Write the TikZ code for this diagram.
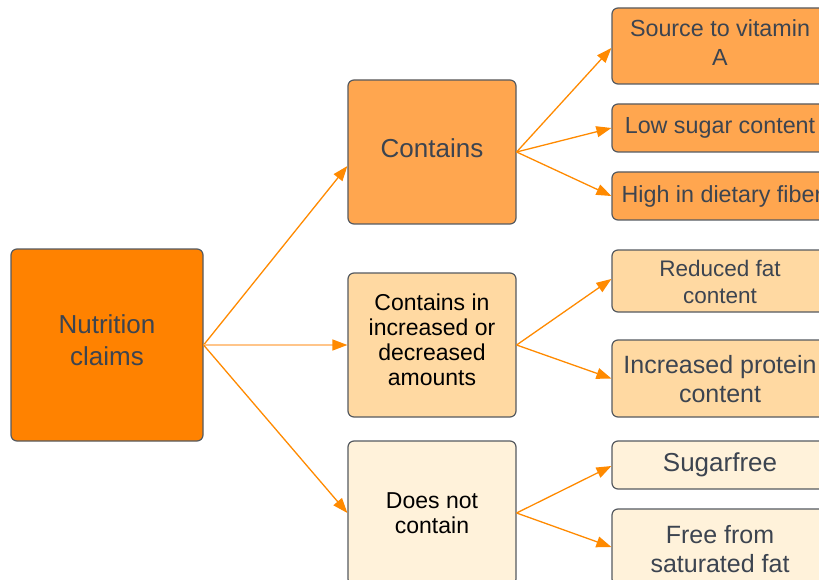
\documentclass[tikz,border=0pt]{standalone}
\usepackage{fontspec}
\setmainfont{Liberation Sans}
\usetikzlibrary{arrows.meta}
\definecolor{dkorange}{HTML}{FF8200}
\definecolor{mdorange}{HTML}{FFA64F}
\definecolor{ltorange}{HTML}{FFD9A2}
\definecolor{palecream}{HTML}{FFF2DA}
\definecolor{arrcol}{HTML}{FF8A00}
\definecolor{lightarr}{HTML}{FFC58A}
\definecolor{txtgray}{HTML}{3C4450}
\definecolor{bordergray}{HTML}{555A60}
\tikzset{
  box/.style={draw=bordergray, line width=1.2pt, rounded corners=6pt, rectangle, inner sep=0pt},
  lbl/.style={align=center, inner sep=0pt},
  arr/.style={draw=arrcol, line width=1.3pt, -{Triangle[length=15pt,width=11pt,color=arrcol]}},
  lightarr/.style={draw=lightarr, line width=1.3pt, -{Triangle[length=15pt,width=11pt,color=arrcol,fill=arrcol]}},
}
\begin{document}
\begin{tikzpicture}[x=1pt,y=-1pt]
\useasboundingbox (0,0) rectangle (819,580);
\clip (0,0) rectangle (819,580);
\fill[white] (0,0) rectangle (819,580);
% left
\node[box, fill=dkorange, minimum width=192pt, minimum height=192pt] (nc) at (107,345) {};
\node[lbl, text=txtgray, font=\fontsize{26}{32}\selectfont] (tnc) at ([yshift=5pt]nc.center) {Nutrition\\claims};
% middle
\node[box, fill=mdorange, minimum width=168pt, minimum height=144pt] (c1) at (432,152) {};
\node[lbl, text=txtgray, font=\fontsize{26}{32}\selectfont] (tc1) at ([yshift=4pt]c1.center) {Contains};
\node[box, fill=ltorange, minimum width=168pt, minimum height=144pt] (c2) at (432,345) {};
\node[lbl, text=black, font=\fontsize{23}{25}\selectfont] (tc2) at ([yshift=5pt]c2.center) {Contains in\\increased or\\decreased\\amounts};
\node[box, fill=palecream, minimum width=168pt, minimum height=144pt] (c3) at (432,513) {};
\node[lbl, text=black, font=\fontsize{23}{25}\selectfont] (tc3) at ([yshift=0pt]c3.center) {Does not\\contain};
% right
\node[box, fill=mdorange, minimum width=216pt, minimum height=76pt] (r1) at (720,46) {};
\node[lbl, text=txtgray, font=\fontsize{23.3}{29}\selectfont] (tr1) at ([yshift=3pt]r1.center) {Source to vitamin\\A};
\node[box, fill=mdorange, minimum width=216pt, minimum height=48pt] (r2) at (720,128) {};
\node[lbl, text=txtgray, font=\fontsize{23.3}{29}\selectfont] (tr2) at ([yshift=0pt]r2.center) {Low sugar content};
\node[box, fill=mdorange, minimum width=216pt, minimum height=48pt] (r3) at (720,196) {};
\node[lbl, text=txtgray, font=\fontsize{23.3}{29}\selectfont, anchor=west] (tr3) at ([xshift=10pt]r3.west) {High in dietary fiber};
\node[box, fill=ltorange, minimum width=216pt, minimum height=62pt] (r4) at (720,281) {};
\node[lbl, text=txtgray, font=\fontsize{22.5}{27}\selectfont] (tr4) at ([yshift=-1pt]r4.center) {Reduced fat\\content};
\node[box, fill=ltorange, minimum width=216pt, minimum height=77pt] (r5) at (720,378.5) {};
\node[lbl, text=txtgray, font=\fontsize{25}{29}\selectfont] (tr5) at ([yshift=-1pt]r5.center) {Increased protein\\content};
\node[box, fill=palecream, minimum width=216pt, minimum height=48pt] (r6) at (720,465) {};
\node[lbl, text=txtgray, font=\fontsize{26}{30}\selectfont] (tr6) at ([yshift=0pt]r6.center) {Sugarfree};
\node[box, fill=palecream, minimum width=216pt, minimum height=76pt] (r7) at (720,547) {};
\node[lbl, text=txtgray, font=\fontsize{25}{29.5}\selectfont] (tr7) at ([yshift=-2pt]r7.center) {Free from\\saturated fat};
% connectors
\draw[arr] (nc.east) -- ([yshift=-14pt]c1.west);
\draw[lightarr] (nc.east) -- (c2.west);
\draw[arr] (nc.east) -- (c3.west);
\draw[arr] (c1.east) -- ([yshift=-2pt]r1.west);
\draw[arr] (c1.east) -- (r2.west);
\draw[arr] (c1.east) -- (r3.west);
\draw[arr] (c2.east) -- ([yshift=2pt]r4.west);
\draw[arr] (c2.east) -- (r5.west);
\draw[arr] (c3.east) -- ([yshift=-1pt]r6.west);
\draw[arr] (c3.east) -- (r7.west);
\end{tikzpicture}
\end{document}
